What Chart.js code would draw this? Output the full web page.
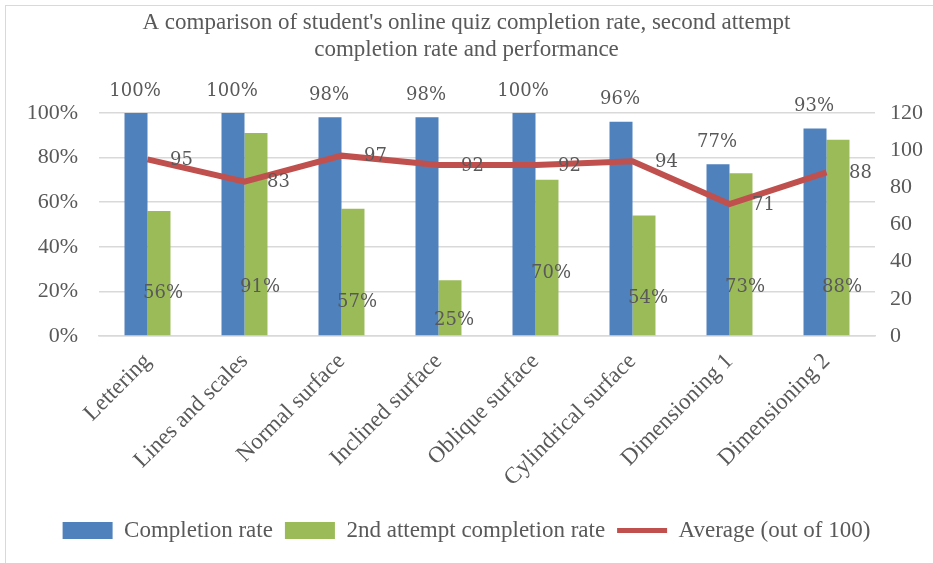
<!DOCTYPE html>
<html lang="en">
  <head>
    <meta charset="UTF-8" />
    <title>Online quiz completion</title>
    <script src="https://cdn.jsdelivr.net/npm/chart.js"></script>
    <style>
      html, body { margin: 0; padding: 0; background: #fff; }
      #wrap { position: relative; width: 933px; height: 563px; overflow: hidden; }
      #frame { position: absolute; left: 5px; top: 5px; width: 940px; height: 600px; border: 1px solid #d9d9d9; box-sizing: border-box; }
      canvas { position: absolute; left: 0; top: 0; }
    </style>
  </head>
  <body>
    <div id="wrap">
      <div id="frame"></div>
      <canvas id="quizChart" width="933" height="563"></canvas>
    </div>

    <script>
      // chart data
      const topics = ['Lettering', 'Lines and scales', 'Normal surface', 'Inclined surface',
        'Oblique surface', 'Cylindrical surface', 'Dimensioning 1', 'Dimensioning 2'];
      const completionRate = [100, 100, 98, 98, 100, 96, 77, 93];
      const secondAttempt = [56, 91, 57, 25, 70, 54, 73, 88];
      const averageScore = [95, 83, 97, 92, 92, 94, 71, 88];
      // where the 2nd attempt labels sit (left axis units, moved by hand in the original)
      const secondLabelAt = [19, 22, 15, 7, 28, 17, 22, 22];
      const leftTicks = [0, 20, 40, 60, 80, 100];
      const rightTicks = [0, 20, 40, 60, 80, 100, 120];

      const grey = '#595959';
      const serif = "'Liberation Serif', 'Times New Roman', serif";
      const labelFont = "18px 'DejaVu Serif', serif";

      // value labels placed like the excel original
      const valueLabels = {
        id: 'valueLabels',
        afterDatasetsDraw(chart) {
          const ctx = chart.ctx;
          const yL = chart.scales.y;
          ctx.save();
          ctx.font = labelFont;
          ctx.fillStyle = grey;
          ctx.textAlign = 'center';
          ctx.textBaseline = 'middle';
          chart.getDatasetMeta(1).data.forEach((bar, i) => {
            ctx.fillText(completionRate[i] + '%', bar.x - 1, bar.y - 22);
          });
          chart.getDatasetMeta(2).data.forEach((bar, i) => {
            ctx.fillText(secondAttempt[i] + '%', bar.x + 4, yL.getPixelForValue(secondLabelAt[i]));
          });
          chart.getDatasetMeta(0).data.forEach((pt, i) => {
            ctx.fillText(String(averageScore[i]), pt.x + 34, pt.y + 1);
          });
          ctx.restore();
        }
      };

      new Chart(document.getElementById('quizChart'), {
        data: {
          labels: topics,
          datasets: [
            {
              type: 'line',
              label: 'Average (out of 100)',
              data: averageScore,
              yAxisID: 'y2',
              borderColor: '#C0504D',
              backgroundColor: '#C0504D',
              borderWidth: 6,
              pointRadius: 0,
              tension: 0,
              order: 0
            },
            {
              type: 'bar',
              label: 'Completion rate',
              data: completionRate,
              yAxisID: 'y',
              backgroundColor: '#4F81BD',
              categoryPercentage: 0.474,
              barPercentage: 1,
              order: 1
            },
            {
              type: 'bar',
              label: '2nd attempt completion rate',
              data: secondAttempt,
              yAxisID: 'y',
              backgroundColor: '#9BBB59',
              categoryPercentage: 0.474,
              barPercentage: 1,
              order: 1
            }
          ]
        },
        options: {
          responsive: false,
          animation: false,
          layout: { padding: { left: 0, right: 0, top: 0, bottom: 11 } },
          plugins: {
            title: {
              display: true,
              text: ["A comparison of student's online quiz completion rate, second attempt",
                'completion rate and performance'],
              color: grey,
              font: { family: serif, size: 23, weight: 'normal', lineHeight: 1.15 },
              padding: { top: 10, bottom: 50 }
            },
            legend: {
              position: 'bottom',
              labels: {
                color: grey,
                font: { family: serif, size: 23 },
                usePointStyle: true,
                pointStyleWidth: 50,
                boxHeight: 17,
                padding: 12,
                generateLabels(chart) {
                  const items = Chart.defaults.plugins.legend.labels.generateLabels(chart);
                  const byName = {};
                  items.forEach(it => { byName[it.text] = it; });
                  const a = byName['Completion rate'];
                  const b = byName['2nd attempt completion rate'];
                  const c = byName['Average (out of 100)'];
                  a.pointStyle = 'rect'; a.lineWidth = 0; a.strokeStyle = '#4F81BD';
                  b.pointStyle = 'rect'; b.lineWidth = 0; b.strokeStyle = '#9BBB59';
                  c.pointStyle = 'line'; c.lineWidth = 5; c.strokeStyle = '#C0504D';
                  return [a, b, c];
                }
              }
            },
            tooltip: { enabled: false }
          },
          scales: {
            x: {
              grid: { display: false },
              border: { color: '#d9d9d9', width: 1.5 },
              afterFit(axis) { axis.height = 171; },
              ticks: {
                color: grey,
                font: { family: serif, size: 23 },
                maxRotation: 45,
                minRotation: 45,
                padding: 4
              }
            },
            y: {
              position: 'left',
              min: 0,
              max: 100,
              afterBuildTicks(axis) { axis.ticks = leftTicks.map(v => ({ value: v })); },
              afterFit(axis) { axis.width = 99; },
              grid: { color: '#d9d9d9', lineWidth: 1.5, drawTicks: false },
              border: { display: false },
              ticks: {
                color: grey,
                font: { family: serif, size: 22 },
                padding: 21,
                callback: v => v + '%'
              }
            },
            y2: {
              position: 'right',
              min: 0,
              max: 120,
              afterBuildTicks(axis) { axis.ticks = rightTicks.map(v => ({ value: v })); },
              afterFit(axis) { axis.width = 58; },
              grid: { display: false, drawTicks: false },
              border: { display: false },
              ticks: {
                color: grey,
                font: { family: serif, size: 22 },
                padding: 15
              }
            }
          }
        },
        plugins: [valueLabels]
      });
    </script>
  </body>
</html>
